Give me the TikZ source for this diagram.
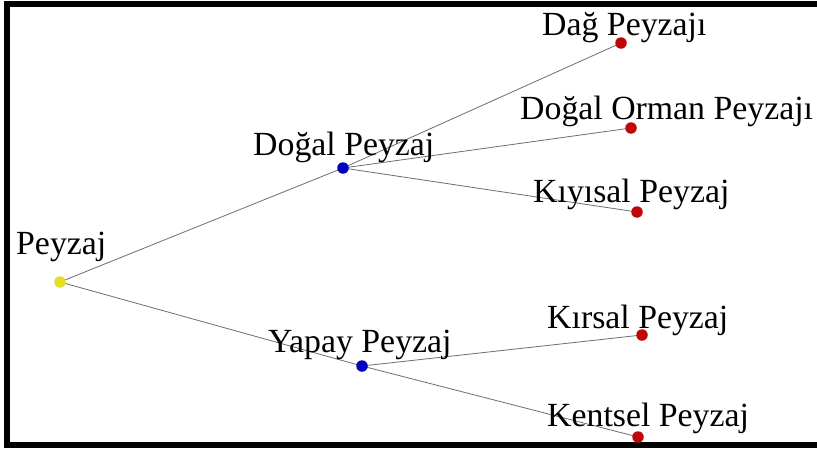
\documentclass[tikz,border=0pt]{standalone}
\usepackage{fontspec}
\setmainfont{Liberation Serif}
\begin{document}
\begin{tikzpicture}[x=1pt,y=-1pt,
  lbl/.style={anchor=base west,inner sep=0pt,font=\fontsize{33.8}{35}\selectfont},
  dot/.style={circle,inner sep=0pt,minimum size=11.5pt},
  rootdot/.style={dot,fill=rootcol},
  middot/.style={dot,fill=midcol},
  leafdot/.style={dot,fill=leafcol},
  edge/.style={draw=edgecol,line width=0.8pt}]
\definecolor{rootcol}{RGB}{228,222,40}
\definecolor{midcol}{RGB}{0,0,190}
\definecolor{leafcol}{RGB}{190,8,8}
\definecolor{edgecol}{RGB}{110,110,110}
\useasboundingbox (0,0) rectangle (817,450);
\fill[white] (0,0) rectangle (817,450);
% frame
\fill[black] (4,1) rectangle (817,6.5);
\fill[black] (4,1) rectangle (10,448);
\fill[black] (4,442) rectangle (817,448);
% dot positions
\coordinate (root) at (60,282);
\coordinate (dogal) at (343,168);
\coordinate (yapay) at (362,366);
\coordinate (dag) at (621,43);
\coordinate (orman) at (631,128);
\coordinate (kiyi) at (637,212);
\coordinate (kirsal) at (642,335);
\coordinate (kent) at (638,437);
% edges
\draw[edge] (root) -- (dogal);
\draw[edge] (root) -- (yapay);
\draw[edge] (dogal) -- (dag);
\draw[edge] (dogal) -- (orman);
\draw[edge] (dogal) -- (kiyi);
\draw[edge] (yapay) -- (kirsal);
\draw[edge] (yapay) -- (kent);
% dots
\node[rootdot] (nroot) at (root) {};
\node[middot] (ndogal) at (dogal) {};
\node[middot] (nyapay) at (yapay) {};
\node[leafdot] (ndag) at (dag) {};
\node[leafdot] (norman) at (orman) {};
\node[leafdot] (nkiyi) at (kiyi) {};
\node[leafdot] (nkirsal) at (kirsal) {};
\node[leafdot] (nkent) at (kent) {};
% labels
\node[lbl] (lroot) at (16,254) {Peyzaj};
\node[lbl] (ldogal) at (253,155) {Doğal Peyzaj};
\node[lbl] (lyapay) at (268,352) {Yapay Peyzaj};
\node[lbl] (ldag) at (542,35) {Dağ Peyzajı};
\node[lbl] (lorman) at (520,119) {Doğal Orman Peyzajı};
\node[lbl] (lkiyi) at (533,202) {Kıyısal Peyzaj};
\node[lbl] (lkirsal) at (547,328) {Kırsal Peyzaj};
\node[lbl] (lkent) at (547,426) {Kentsel Peyzaj};
\end{tikzpicture}
\end{document}
